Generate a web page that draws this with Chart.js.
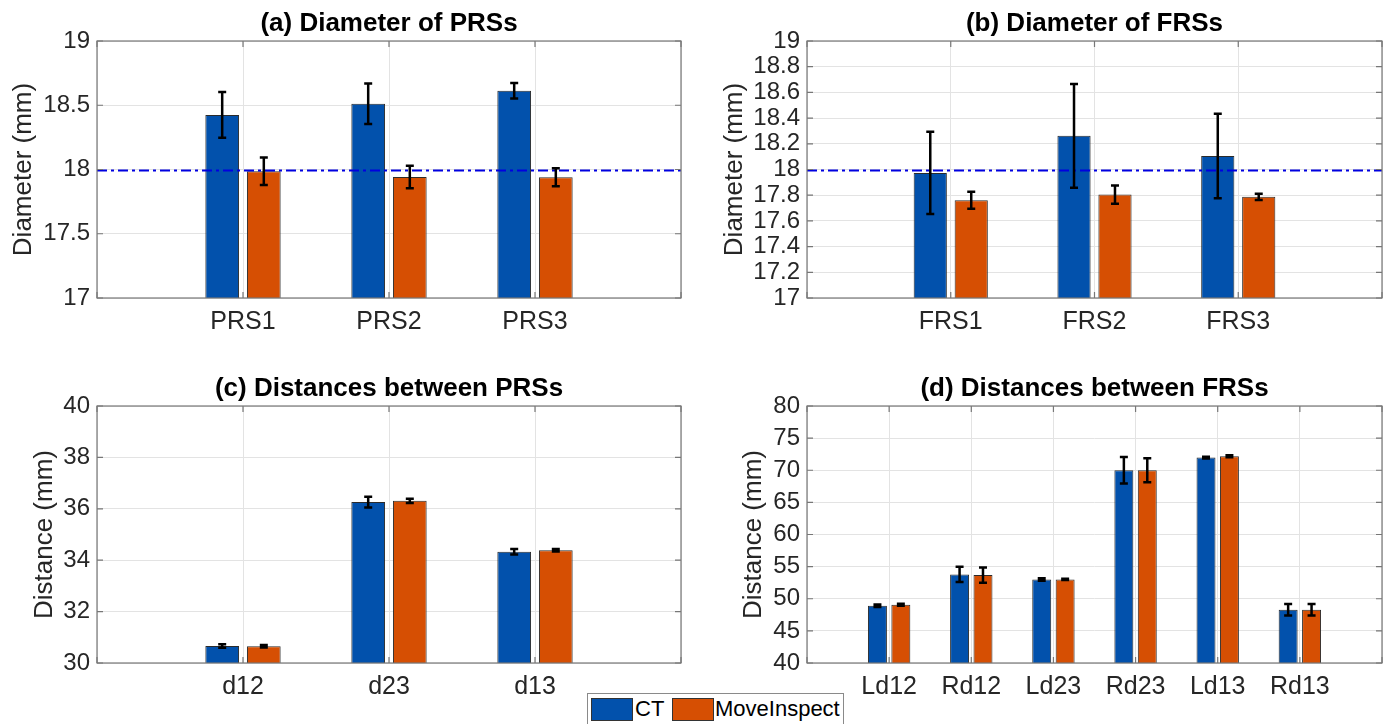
<!DOCTYPE html>
<html>
<head>
<meta charset="utf-8">
<script src="https://cdn.jsdelivr.net/npm/chart.js@4.4.1/dist/chart.umd.min.js"></script>
<style>
  html, body { margin: 0; padding: 0; background: #fff; }
  body { width: 1391px; height: 724px; position: relative; overflow: hidden; font-family: 'Liberation Sans', Arial, sans-serif; }
  .panel { position: absolute; }
  #legend { position: absolute; left: 587px; top: 693px; width: 255px; height: 36px; border: 1px solid #8a8a8a; background: #fff; }
  #legend .sw { position: absolute; top: 4px; width: 40px; height: 21px; border: 1px solid #333; }
  #legend .lbl { position: absolute; top: 2px; font-size: 22px; line-height: 26px; color: #000; }
</style>
</head>
<body>
<div class="panel" style="left:0;top:0;width:690px;height:345px"><canvas id="chartA"></canvas></div>
<div class="panel" style="left:700px;top:0;width:691px;height:345px"><canvas id="chartB"></canvas></div>
<div class="panel" style="left:0;top:365px;width:690px;height:345px"><canvas id="chartC"></canvas></div>
<div class="panel" style="left:700px;top:365px;width:691px;height:345px"><canvas id="chartD"></canvas></div>
<div id="legend">
  <div class="sw" style="left:3px;background:#0251ac"></div><div class="lbl" style="left:47px">CT</div>
  <div class="sw" style="left:84px;background:#d64f03"></div><div class="lbl" style="left:127px">MoveInspect</div>
</div>
<script>
const FONT = "'Liberation Sans', Arial, sans-serif";
const CT_COLOR = '#0251ac';
const MI_COLOR = '#d64f03';

// (a) diameter of PRSs
const prsLabels = ['PRS1', 'PRS2', 'PRS3'];
const ctPrsDiam = [18.425, 18.512, 18.613];
const ctPrsDiamErr = [0.178, 0.158, 0.06];
const miPrsDiam = [17.986, 17.942, 17.939];
const miPrsDiamErr = [0.107, 0.088, 0.07];
const yTicksA = [17, 17.5, 18, 18.5, 19];

// (b) diameter of FRSs
const frsLabels = ['FRS1', 'FRS2', 'FRS3'];
const ctFrsDiam = [17.973, 18.262, 18.105];
const ctFrsDiamErr = [0.32, 0.404, 0.328];
const miFrsDiam = [17.761, 17.805, 17.787];
const miFrsDiamErr = [0.066, 0.071, 0.025];
const yTicksB = [17, 17.2, 17.4, 17.6, 17.8, 18, 18.2, 18.4, 18.6, 18.8, 19];

// nominal diameter
const nominalDiam = 18;

// (c) distances between PRSs
const prsDistLabels = ['d12', 'd23', 'd13'];
const ctPrsDist = [30.66, 36.26, 34.33];
const ctPrsDistErr = [0.07, 0.21, 0.11];
const miPrsDist = [30.65, 36.31, 34.39];
const miPrsDistErr = [0.05, 0.08, 0.05];
const yTicksC = [30, 32, 34, 36, 38, 40];

// (d) distances between FRSs
const frsDistLabels = ['Ld12', 'Rd12', 'Ld23', 'Rd23', 'Ld13', 'Rd13'];
const ctFrsDist = [48.91, 53.78, 53.0, 70.0, 71.97, 48.29];
const ctFrsDistErr = [0.2, 1.19, 0.2, 2.05, 0.15, 0.88];
const miFrsDist = [49.07, 53.68, 53.0, 70.0, 72.18, 48.29];
const miFrsDistErr = [0.15, 1.19, 0.1, 1.86, 0.15, 0.88];
const yTicksD = [40, 45, 50, 55, 60, 65, 70, 75, 80];

// reference line, error bars, box, inward ticks and title centred on the axes (matlab style)
const panelDecor = {
  id: 'panelDecor',
  afterDatasetsDraw(chart, args, opts) {
    const { ctx, chartArea: a, scales: { x, y } } = chart;
    ctx.save();
    if (opts.refValue != null) {
      const py = Math.round(y.getPixelForValue(opts.refValue)) + 0.5;
      ctx.strokeStyle = '#0000e0';
      ctx.lineWidth = 2;
      ctx.setLineDash([10, 4, 3, 4]);
      ctx.beginPath();
      ctx.moveTo(a.left, py);
      ctx.lineTo(a.right, py);
      ctx.stroke();
      ctx.setLineDash([]);
    }
    ctx.strokeStyle = '#000';
    ctx.lineWidth = 2.5;
    chart.data.datasets.forEach((ds, di) => {
      chart.getDatasetMeta(di).data.forEach((bar, i) => {
        const v = ds.data[i], e = ds.errors ? ds.errors[i] : null;
        if (v == null || e == null) return;
        const top = y.getPixelForValue(v + e), bot = y.getPixelForValue(v - e);
        ctx.beginPath();
        ctx.moveTo(bar.x, top); ctx.lineTo(bar.x, bot);
        ctx.moveTo(bar.x - 4, top); ctx.lineTo(bar.x + 4, top);
        ctx.moveTo(bar.x - 4, bot); ctx.lineTo(bar.x + 4, bot);
        ctx.stroke();
      });
    });
    ctx.strokeStyle = '#777';
    ctx.lineWidth = 1.2;
    ctx.strokeRect(a.left, a.top, a.right - a.left, a.bottom - a.top);
    ctx.beginPath();
    y.ticks.forEach((t, i) => {
      const py = y.getPixelForTick(i);
      ctx.moveTo(a.left, py); ctx.lineTo(a.left + 6, py);
      ctx.moveTo(a.right, py); ctx.lineTo(a.right - 6, py);
    });
    x.ticks.forEach((t, i) => {
      const px = x.getPixelForTick(i);
      ctx.moveTo(px, a.bottom); ctx.lineTo(px, a.bottom - 6);
      ctx.moveTo(px, a.top); ctx.lineTo(px, a.top + 6);
    });
    ctx.stroke();

    ctx.fillStyle = '#000';
    ctx.font = 'bold 26px ' + FONT;
    ctx.textAlign = 'center';
    ctx.textBaseline = 'middle';
    ctx.fillText(opts.title, (a.left + a.right) / 2, 24);
    ctx.restore();
  }
};

function pad(arr) { return [null, ...arr, null]; }

function buildChart(id, o) {
  return new Chart(document.getElementById(id), {
    type: 'bar',
    data: {
      labels: ['', ...o.labels, ''],
      datasets: [
        { label: 'CT', data: pad(o.ct), errors: pad(o.ctErr), backgroundColor: CT_COLOR, borderColor: '#2b2b2b', borderWidth: 1 },
        { label: 'MoveInspect', data: pad(o.mi), errors: pad(o.miErr), backgroundColor: MI_COLOR, borderColor: '#2b2b2b', borderWidth: 1 }
      ]
    },
    options: {
      responsive: true,
      maintainAspectRatio: false,
      animation: false,
      categoryPercentage: 0.57,
      barPercentage: 0.81,
      layout: { padding: { left: 0, right: 7, top: 41, bottom: 0 } },
      plugins: {
        legend: { display: false },
        tooltip: { enabled: false },
        title: { display: false },
        panelDecor: { refValue: o.refValue, title: o.title }
      },
      scales: {
        x: {
          offset: false,
          grid: { offset: false, color: '#e3e3e3', drawTicks: false },
          border: { display: false },
          ticks: { color: '#262626', font: { family: FONT, size: 25 }, padding: 9, maxRotation: 0, autoSkip: false },
          afterFit: s => { s.height = 47; }
        },
        y: {
          min: o.yTicks[0],
          max: o.yTicks[o.yTicks.length - 1],
          afterBuildTicks: s => { s.ticks = o.yTicks.map(v => ({ value: v })); },
          grid: { color: '#e3e3e3', drawTicks: false },
          border: { display: false },
          ticks: { color: '#262626', font: { family: FONT, size: 24 }, padding: 7, autoSkip: false, callback: v => String(v) },
          title: {
            display: true, text: o.yTitle, color: '#262626',
            font: { family: FONT, size: 26 },
            padding: { top: o.yTitlePad, bottom: 0 }
          },
          afterFit: s => { s.width = o.axisWidth; }
        }
      }
    },
    plugins: [panelDecor]
  });
}

buildChart('chartA', {
  title: '(a) Diameter of PRSs', yTitle: 'Diameter (mm)', labels: prsLabels,
  ct: ctPrsDiam, ctErr: ctPrsDiamErr, mi: miPrsDiam, miErr: miPrsDiamErr,
  yTicks: yTicksA, refValue: nominalDiam, axisWidth: 97, yTitlePad: 8
});
buildChart('chartB', {
  title: '(b) Diameter of FRSs', yTitle: 'Diameter (mm)', labels: frsLabels,
  ct: ctFrsDiam, ctErr: ctFrsDiamErr, mi: miFrsDiam, miErr: miFrsDiamErr,
  yTicks: yTicksB, refValue: nominalDiam, axisWidth: 107, yTitlePad: 19
});
buildChart('chartC', {
  title: '(c) Distances between PRSs', yTitle: 'Distance (mm)', labels: prsDistLabels,
  ct: ctPrsDist, ctErr: ctPrsDistErr, mi: miPrsDist, miErr: miPrsDistErr,
  yTicks: yTicksC, refValue: null, axisWidth: 97, yTitlePad: 29
});
buildChart('chartD', {
  title: '(d) Distances between FRSs', yTitle: 'Distance (mm)', labels: frsDistLabels,
  ct: ctFrsDist, ctErr: ctFrsDistErr, mi: miFrsDist, miErr: miFrsDistErr,
  yTicks: yTicksD, refValue: null, axisWidth: 107, yTitlePad: 38
});
</script>
</body>
</html>
